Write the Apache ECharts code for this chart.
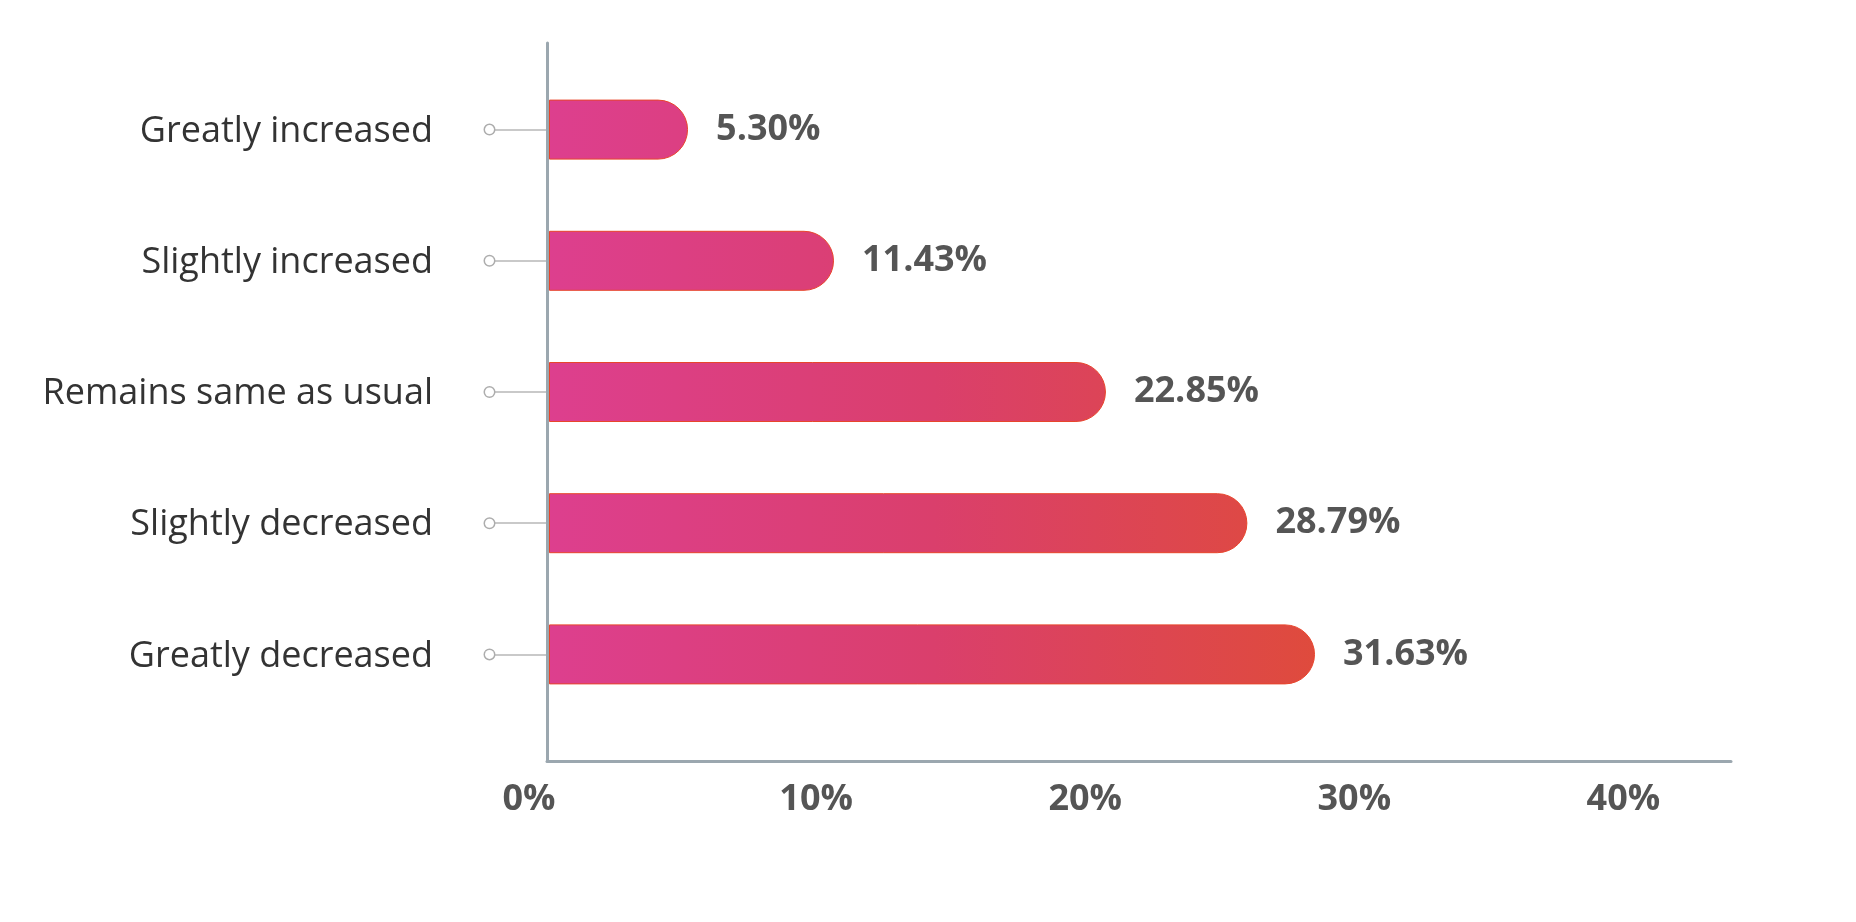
<!DOCTYPE html>
<html>

<head>
    <meta charset="utf-8">
    <script src="https://cdn.jsdelivr.net/npm/echarts@6/dist/echarts.min.js"></script>
    <style>
        html, body { margin: 0; padding: 0; background: #fff; }
    </style>
</head>

<body>
    <div id="main" style="width: 1856px;height:922px;"></div>
    <script type="text/javascript">
        // data
        var categories = ['Greatly increased', 'Slightly increased', 'Remains same as usual', 'Slightly decreased', 'Greatly decreased'];
        var values = [5.30, 11.43, 22.85, 28.79, 31.63];
        var axisTicks = [0, 10, 20, 30, 40];

        var font = '"Open Sans", "Noto Sans", sans-serif';
        var axisColor = '#9ba7af';
        var tickLabelStyle = { fontFamily: font, fontSize: 36, fontWeight: 'bold', color: '#555' };

        var chartDom = document.getElementById('main');
        var myChart = echarts.init(chartDom);
        var option;

        option = {
            animation: false,
            grid: [
                // bars
                { left: 549, width: 1182, top: 64, height: 656 },
                // axis frame
                { left: 547, width: 1184, top: 43, height: 718 }
            ],
            xAxis: [
                {
                    // the bars in the original are not drawn on the printed axis scale,
                    // so they get their own hidden axis that reproduces their lengths
                    gridIndex: 0,
                    type: 'value',
                    min: -0.54,
                    max: 49.1,
                    startValue: -0.54,
                    show: false
                },
                {
                    gridIndex: 1,
                    type: 'value',
                    min: axisTicks[0],
                    max: 44,
                    interval: axisTicks[1] - axisTicks[0],
                    z: 5,
                    axisLine: { show: true, lineStyle: { color: axisColor, width: 3 } },
                    axisTick: { show: false },
                    splitLine: { show: false },
                    axisLabel: Object.assign({
                        showMaxLabel: false,
                        margin: 21,
                        formatter: function (v) {
                            // first label sits a little left of the axis in the original
                            return v === 0 ? '{z|' + v + '%}' : v + '%';
                        },
                        rich: {
                            z: Object.assign({ padding: [0, 36, 0, 0] }, tickLabelStyle)
                        }
                    }, tickLabelStyle)
                }
            ],
            yAxis: [
                {
                    gridIndex: 0,
                    type: 'category',
                    inverse: true,
                    data: categories,
                    axisLine: { show: false },
                    axisTick: {
                        show: true,
                        alignWithLabel: true,
                        length: 68,
                        lineStyle: { color: '#b8b8b8', width: 1.5 }
                    },
                    axisLabel: {
                        margin: 55,
                        formatter: function (v) {
                            return '{t|' + v + '}{g|}{d|}';
                        },
                        rich: {
                            t: { fontFamily: font, fontSize: 36, color: '#333', verticalAlign: 'middle', padding: [4, 0, 0, 0] },
                            g: { width: 52 },
                            d: {
                                width: 9, height: 9, borderRadius: 6,
                                borderWidth: 1.5, borderColor: '#adadad',
                                backgroundColor: '#fff', verticalAlign: 'middle'
                            }
                        }
                    }
                },
                {
                    gridIndex: 1,
                    type: 'value',
                    z: 5,
                    axisLine: { show: true, onZero: false, lineStyle: { color: axisColor, width: 3 } },
                    axisTick: { show: false },
                    axisLabel: { show: false },
                    splitLine: { show: false }
                }
            ],
            series: [
                {
                    type: 'bar',
                    xAxisIndex: 0,
                    yAxisIndex: 0,
                    data: values,
                    barWidth: 60,
                    itemStyle: {
                        color: {
                            type: 'linear',
                            x: 549, y: 0, x2: 1320, y2: 0,
                            global: true,
                            colorStops: [
                                { offset: 0, color: '#dd3f8e' },
                                { offset: 0.5, color: '#da3f6c' },
                                { offset: 1, color: '#df4b3c' }
                            ]
                        },
                        borderColor: '#e8452c',
                        borderWidth: 1,
                        borderRadius: [0, 30, 30, 0]
                    },
                    label: {
                        show: true,
                        position: 'right',
                        distance: 28,
                        fontFamily: font,
                        fontSize: 36,
                        fontWeight: 'bold',
                        color: '#555',
                        formatter: function (p) {
                            return p.value.toFixed(2) + '%';
                        }
                    }
                }
            ]
        };
        myChart.setOption(option);
    </script>
</body>

</html>
